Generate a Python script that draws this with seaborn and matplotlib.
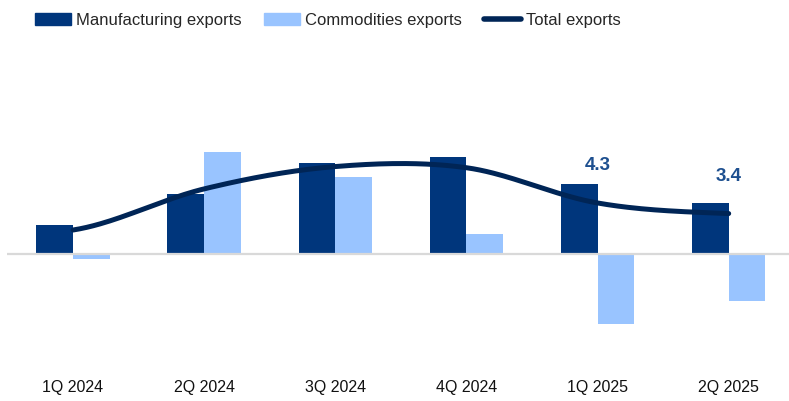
import numpy as np
import pandas as pd
import matplotlib
matplotlib.use("Agg")
import matplotlib.pyplot as plt
from matplotlib.patches import Patch
from matplotlib.lines import Line2D
import seaborn as sns

# Chart data
quarters = ["1Q 2024", "2Q 2024", "3Q 2024", "4Q 2024", "1Q 2025", "2Q 2025"]
manufacturing = [2.4, 5.1, 7.7, 8.2, 5.9, 4.3]
commodities = [-0.5, 8.6, 6.5, 1.7, -6.0, -4.0]
total = [2.0, 5.5, 7.4, 7.3, 4.3, 3.4]
labelled = {4: "4.3", 5: "3.4"}

DARK = "#00367c"
LIGHT = "#99c4ff"
LINE = "#002556"
LABEL = "#1d4f8f"

sns.set_style("white")
plt.rcParams["font.family"] = ["Liberation Sans Narrow", "Liberation Sans", "DejaVu Sans"]


# Catmull-Rom smoothing similar to a spreadsheet "smoothed line"
def smooth_line(ys, n=40):
    ys = np.asarray(ys, dtype=float)
    xs = np.arange(len(ys), dtype=float)
    px = np.concatenate([[2 * xs[0] - xs[1]], xs, [2 * xs[-1] - xs[-2]]])
    py = np.concatenate([[ys[0]], ys, [ys[-1]]])
    out_x, out_y = [], []
    t = np.linspace(0, 1, n)
    for i in range(1, len(px) - 2):
        for p, out in ((px, out_x), (py, out_y)):
            p0, p1, p2, p3 = p[i - 1], p[i], p[i + 1], p[i + 2]
            out.extend(0.5 * ((2 * p1) + (-p0 + p2) * t
                              + (2 * p0 - 5 * p1 + 4 * p2 - p3) * t ** 2
                              + (-p0 + 3 * p1 - 3 * p2 + p3) * t ** 3))
    return np.array(out_x), np.array(out_y)


df = pd.DataFrame({
    "Quarter": quarters * 2,
    "Value": manufacturing + commodities,
    "Series": ["Manufacturing exports"] * len(quarters) + ["Commodities exports"] * len(quarters),
})

fig = plt.figure(figsize=(7.89, 4.01), dpi=100)
ax = fig.add_axes([0.0095, 1 - 345 / 401, 0.9905, 300 / 401])

sns.barplot(data=df, x="Quarter", y="Value", hue="Series", order=quarters,
            palette=[DARK, LIGHT], width=0.56, saturation=1, linewidth=0,
            ax=ax, legend=False)

ax.axhline(0, color="#d9d9d9", lw=1.6, zorder=1)

sx, sy = smooth_line(total)
ax.plot(sx, sy, color=LINE, lw=3.6, solid_capstyle="round", zorder=5)

for i, txt in labelled.items():
    ax.annotate(txt, (i, total[i]), xytext=(0, 27), textcoords="offset points",
                ha="center", va="center", fontsize=13.5, fontweight="bold",
                color=LABEL, family=["Liberation Sans", "DejaVu Sans"])

ax.set_xlim(-0.5, 5.46)
ax.set_ylim(-(345 - 253.5) / 11.75, (253.5 - 45) / 11.75)
ax.set_xlabel("")
ax.set_ylabel("")
ax.set_yticks([])
ax.tick_params(axis="x", length=0, pad=25, labelsize=11.5, colors="#111111")
sns.despine(ax=ax, left=True, bottom=True)

handles = [Patch(color=DARK), Patch(color=LIGHT),
           Line2D([], [], color=LINE, lw=4, solid_capstyle="round")]
fig.legend(handles, ["Manufacturing exports", "Commodities exports", "Total exports"],
           loc="upper left", bbox_to_anchor=(0.025, 1.005), ncol=3, frameon=False,
           fontsize=12, handlelength=2.2, handleheight=0.7, handletextpad=0.3,
           columnspacing=1.3)

fig.savefig("out.png", dpi=100)
